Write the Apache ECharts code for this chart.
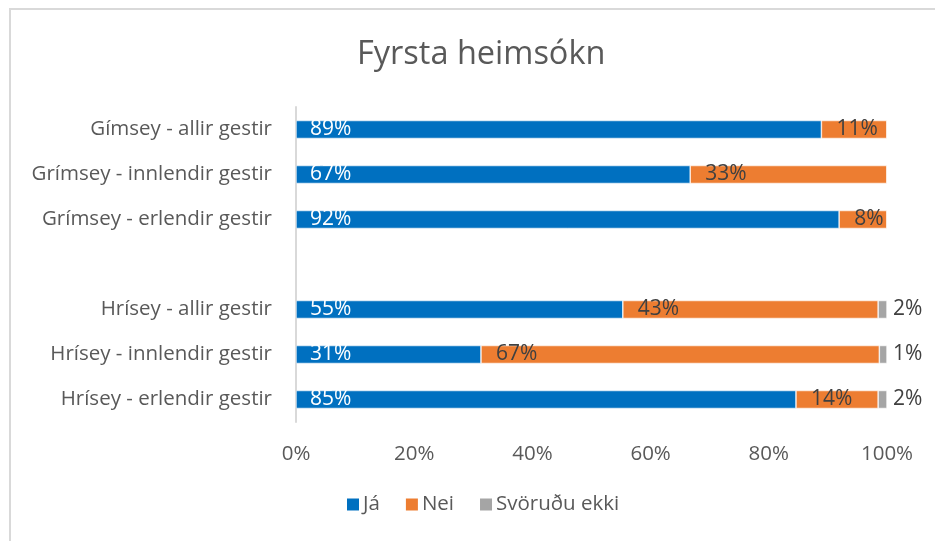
<!DOCTYPE html>
<html>
<head>
<meta charset="utf-8">
<script src="https://cdn.jsdelivr.net/npm/echarts@6/dist/echarts.min.js"></script>
<style>
  html, body { margin: 0; padding: 0; background: #fff; }
  #frame {
    position: absolute; left: 9px; top: 8px; width: 940px; height: 545px;
    border-left: 2px solid #d9d9d9; border-top: 2px solid #d9d9d9;
  }
  #container { position: absolute; left: 0; top: 0; width: 935px; height: 541px; }
</style>
</head>
<body>
<div id="frame"></div>
<div id="container"></div>
<script>
const categories = [
  'Gímsey - allir gestir',
  'Grímsey - innlendir gestir',
  'Grímsey - erlendir gestir',
  '',
  'Hrísey - allir gestir',
  'Hrísey - innlendir gestir',
  'Hrísey - erlendir gestir'
]
const ja = [88.9, 66.7, 91.9, null, 55.3, 31.3, 84.6]
const nei = [11.1, 33.3, 8.1, null, 43.2, 67.4, 13.9]
const svarEkki = [0, 0, 0, null, 1.5, 1.3, 1.5]
const tickLabels = ['0%', '20%', '40%', '60%', '80%', '100%']

const font = '"Open Sans", "Noto Sans", sans-serif'
const pct = p => (p.value ? Math.round(p.value) + '%' : '')

const myChart = echarts.init(document.getElementById('container'), null, { renderer: 'canvas' })

const option = {
  animation: false,
  color: ['#0070c0', '#ed7d31', '#a5a5a5'],
  textStyle: { fontFamily: font },
  title: {
    text: 'Fyrsta heimsókn',
    left: 352,
    top: 33,
    textStyle: { fontFamily: font, fontSize: 32.5, fontWeight: 'normal', color: '#595959' }
  },
  legend: {
    data: ['Já', 'Nei', 'Svöruðu ekki'],
    bottom: 21,
    left: 340,
    icon: 'rect',
    itemWidth: 14,
    itemHeight: 14,
    itemGap: 24,
    textStyle: { fontFamily: font, fontSize: 20.5, color: '#595959', padding: [0, 0, 0, -2] }
  },
  grid: { left: 296, top: 107, width: 591, height: 315 },
  xAxis: {
    type: 'value',
    min: 0,
    max: 100,
    interval: 20,
    axisLine: { show: false },
    axisTick: { show: false },
    splitLine: { show: false },
    axisLabel: {
      margin: 22,
      fontSize: 20.5,
      color: '#595959',
      fontFamily: font,
      formatter: v => tickLabels[v / 20]
    }
  },
  yAxis: {
    type: 'category',
    inverse: true,
    data: categories,
    axisLine: { lineStyle: { color: '#d9d9d9', width: 2 } },
    axisTick: { show: false },
    axisLabel: { margin: 24, fontSize: 20.5, color: '#595959', fontFamily: font }
  },
  series: [
    {
      name: 'Já',
      type: 'bar',
      stack: 'a',
      barWidth: '40%',
      data: ja,
      itemStyle: { borderColor: '#fff', borderWidth: 0.6 },
      label: { show: true, position: 'insideLeft', distance: 14, color: '#fff', fontSize: 21, fontFamily: font, formatter: pct }
    },
    {
      name: 'Nei',
      type: 'bar',
      stack: 'a',
      data: nei,
      itemStyle: { borderColor: '#fff', borderWidth: 0.6 },
      label: { show: true, position: 'insideLeft', distance: 15, color: '#404040', fontSize: 21, fontFamily: font, formatter: pct }
    },
    {
      name: 'Svöruðu ekki',
      type: 'bar',
      stack: 'a',
      data: svarEkki,
      itemStyle: { borderColor: '#fff', borderWidth: 0.6 },
      label: { show: true, position: 'right', distance: 6, color: '#404040', fontSize: 21, fontFamily: font, formatter: pct }
    }
  ]
}

myChart.setOption(option, true)
window.addEventListener('resize', () => {
  myChart.resize()
})
</script>
</body>
</html>
